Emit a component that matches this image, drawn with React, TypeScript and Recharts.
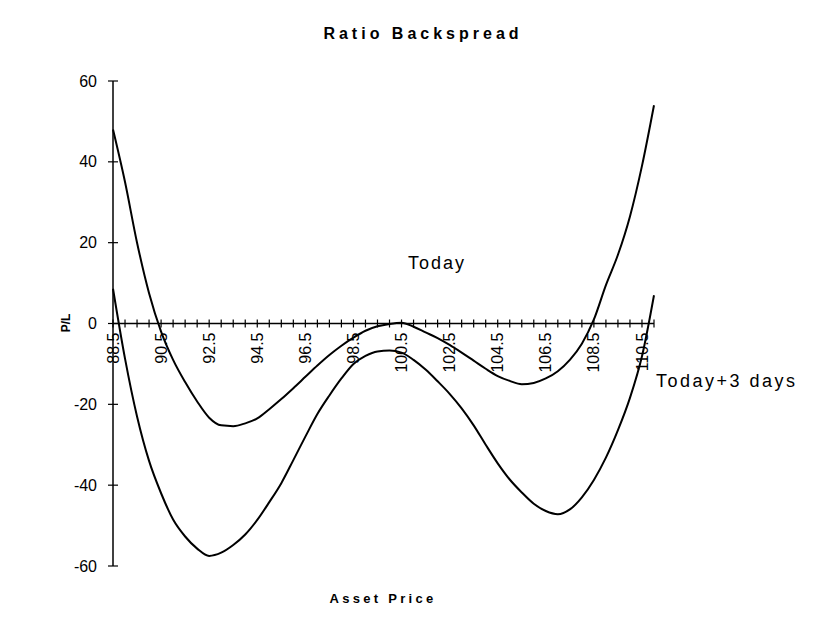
import { LineChart, Line, XAxis, YAxis, ReferenceLine } from 'recharts'

const prices = [
  88.5, 89, 89.5, 90, 90.5, 91, 91.5, 92, 92.5, 93, 93.5, 94, 94.5, 95, 95.5, 96,
  96.5, 97, 97.5, 98, 98.5, 99, 99.5, 100, 100.5, 101, 101.5, 102, 102.5, 103,
  103.5, 104, 104.5, 105, 105.5, 106, 106.5, 107, 107.5, 108, 108.5, 109, 109.5,
  110, 110.5, 111,
]

const today = [
  48, 35, 20, 7.5, -2, -9, -14.5, -19.3, -23.3, -25.2, -25.4, -24.7, -23.5,
  -21.2, -18.7, -16, -13.2, -10.4, -7.8, -5.5, -3.5, -1.8, -0.7, -0.1, 0.2, -0.8, -2.2,
  -3.6, -5.3, -7.2, -9.2, -11.2, -13, -14.2, -15, -14.7, -13.6, -11.8, -9, -5, 1,
  9.5, 17, 26.5, 39, 54,
]

const todayPlus3 = [
  8.6, -8.7, -23, -34, -42, -48.5, -52.7, -55.7, -57.5, -56.7, -54.8, -52.2, -48.6,
  -44.2, -39.5, -33.8, -28, -22.4, -17.8, -13.6, -10, -8, -6.9, -6.7, -7.2, -9,
  -11.4, -14.3, -17.4, -21, -25.2, -30, -34.6, -38.6, -41.8, -44.6, -46.4, -47.2,
  -46, -43, -38.7, -33.2, -26.4, -18.4, -8.1, 7,
]

const yTicks = [-60, -40, -20, 0, 20, 40, 60]

const W = 804
const H = 600
const X_AXIS_H = 30
const MARGIN = { top: 73, right: 158, bottom: 42 - X_AXIS_H, left: 45 }
const PLOT_H = H - MARGIN.top - MARGIN.bottom - X_AXIS_H
const ZERO_Y = MARGIN.top + PLOT_H / 2
const FONT = '"Liberation Sans", Arial, sans-serif'

const data = prices.map((p, i) => ({
  price: p,
  today: today[i],
  plus3: todayPlus3[i],
}))

// x labels sit on the zero line, not at the bottom of the plot
function PriceTick(props: any) {
  const { x, index, payload } = props
  return (
    <g>
      <line x1={x} x2={x} y1={ZERO_Y - 4} y2={ZERO_Y + 4} stroke="#000" strokeWidth={1.2} />
      {index % 4 === 0 && (
        <text
          x={x}
          y={ZERO_Y + 9}
          transform={`rotate(-90 ${x} ${ZERO_Y + 9})`}
          textAnchor="end"
          dy="0.35em"
          fontSize={16}
          fontFamily={FONT}
          fill="#000"
        >
          {Number(payload.value).toFixed(1)}
        </text>
      )}
    </g>
  )
}

function PLTick(props: any) {
  const { x, y, payload } = props
  return (
    <g>
      <line x1={x - 5} x2={x + 5} y1={y} y2={y} stroke="#000" strokeWidth={1.2} />
      <text x={x - 16} y={y} dy="0.35em" textAnchor="end" fontSize={16} fontFamily={FONT} fill="#000">
        {payload.value}
      </text>
    </g>
  )
}

const note: React.CSSProperties = {
  position: 'absolute',
  fontFamily: FONT,
  color: '#000',
  whiteSpace: 'nowrap',
  lineHeight: 1,
}

export default function App() {
  return (
    <div style={{ position: 'relative', width: W, height: H }}>
      <div style={{ ...note, left: 415, top: 18, transform: 'translateX(-50%)', fontSize: 16, fontWeight: 'bold', letterSpacing: 4 }}>
        Ratio Backspread
      </div>
      <div style={{ ...note, left: 58, top: 315, transform: 'translate(-50%, -50%) rotate(-90deg)', fontSize: 12, fontWeight: 'bold' }}>
        P/L
      </div>
      <div style={{ ...note, left: 375, top: 584, transform: 'translateX(-50%)', fontSize: 13, fontWeight: 'bold', letterSpacing: 3.3 }}>
        Asset Price
      </div>
      <div style={{ ...note, left: 400, top: 246, fontSize: 18, letterSpacing: 2 }}>Today</div>
      <div style={{ ...note, left: 648, top: 364, fontSize: 18, letterSpacing: 2.5 }}>Today+3 days</div>
      <LineChart width={W} height={H} data={data} margin={MARGIN}>
        <XAxis
          dataKey="price"
          type="category"
          interval={0}
          height={X_AXIS_H}
          tickSize={0}
          tickMargin={0}
          axisLine={false}
          tickLine={false}
          tick={<PriceTick />}
        />
        <YAxis
          type="number"
          domain={[-60, 60]}
          ticks={yTicks}
          width={60}
          tickSize={0}
          tickMargin={0}
          tickLine={false}
          axisLine={{ stroke: '#000', strokeWidth: 1.5 }}
          tick={<PLTick />}
        />
        <ReferenceLine y={0} stroke="#000" strokeWidth={1.5} />
        <Line dataKey="today" type="monotone" stroke="#000" strokeWidth={2} dot={false} isAnimationActive={false} />
        <Line dataKey="plus3" type="monotone" stroke="#000" strokeWidth={2} dot={false} isAnimationActive={false} />
      </LineChart>
    </div>
  )
}
